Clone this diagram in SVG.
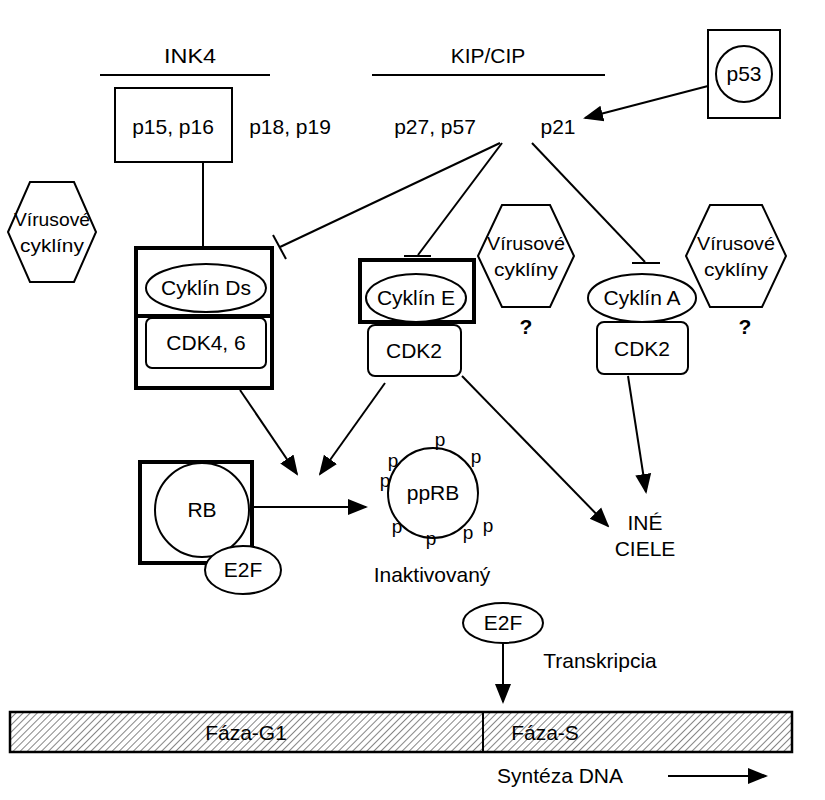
<svg xmlns="http://www.w3.org/2000/svg" width="825" height="800" viewBox="0 0 825 800">
<defs>
<style>
text{font-family:"Liberation Sans",Arial,sans-serif;font-size:21px;fill:#000;text-anchor:middle}
.s{fill:none;stroke:#000;stroke-width:2}
.t{fill:#fff;stroke:#000;stroke-width:4}
.w{fill:#fff;stroke:#000;stroke-width:2}
.p{font-size:19px}
.v{font-size:19px}
</style>
<marker id="A" viewBox="0 0 10 10" refX="9" refY="5" markerWidth="20" markerHeight="20" markerUnits="userSpaceOnUse" orient="auto"><path d="M0,1L10,5L0,9z"/></marker>
<pattern id="h" width="5" height="5" patternUnits="userSpaceOnUse" patternTransform="rotate(45)"><rect width="5" height="5" fill="#fff"/><line x1="0" y1="0" x2="0" y2="5" stroke="#444" stroke-width="1.3"/></pattern>
</defs>
<g id="labels">
<text x="190" y="63" textLength="52" lengthAdjust="spacingAndGlyphs">INK4</text><line class="s" x1="100" y1="75" x2="270" y2="75"/>
<text x="488" y="63">KIP/CIP</text><line class="s" x1="372" y1="75" x2="605" y2="75"/>
<text x="290" y="134">p18, p19</text>
<text x="435" y="134">p27, p57</text>
<text x="558" y="134">p21</text>
</g>
<g id="p53"><rect class="w" x="708" y="30" width="72" height="88" stroke-width="3"/><circle class="w" cx="744" cy="74" r="28"/><text x="744" y="81">p53</text></g>
<g id="p15"><rect class="w" x="115" y="88" width="117" height="74"/><text x="173" y="134">p15, p16</text></g>
<g id="hex1"><polygon class="w" points="8,232 30,182 74,182 96,232 74,282 30,282"/><text class="v" x="52" y="226" textLength="76" lengthAdjust="spacingAndGlyphs">Vírusové</text><text class="v" x="52" y="252" textLength="64" lengthAdjust="spacingAndGlyphs">cyklíny</text></g>
<g id="hex2"><polygon class="w" points="478,256 502,205 550,205 574,256 550,307 502,307"/><text class="v" x="526" y="250" textLength="78" lengthAdjust="spacingAndGlyphs">Vírusové</text><text class="v" x="526" y="276" textLength="64" lengthAdjust="spacingAndGlyphs">cyklíny</text><text x="526" y="334" font-weight="bold">?</text></g>
<g id="hex3"><polygon class="w" points="686,256 710,205 762,205 786,256 762,307 710,307"/><text class="v" x="736" y="250" textLength="78" lengthAdjust="spacingAndGlyphs">Vírusové</text><text class="v" x="736" y="276" textLength="64" lengthAdjust="spacingAndGlyphs">cyklíny</text><text x="745" y="334" font-weight="bold">?</text></g>
<g id="cyclinD"><rect class="t" x="136" y="248" width="136" height="140"/><line x1="136" y1="316" x2="272" y2="316" stroke="#000" stroke-width="4"/><ellipse class="w" cx="206" cy="288" rx="60" ry="24"/><text x="206" y="295">Cyklín Ds</text><rect class="w" x="146" y="318" width="120" height="50" rx="6"/><text x="206" y="350">CDK4, 6</text></g>
<g id="cyclinE"><rect class="t" x="360" y="260" width="114" height="62"/><ellipse class="w" cx="416" cy="298" rx="50" ry="24"/><text x="416" y="305">Cyklín E</text><rect class="w" x="368" y="325" width="93" height="51" rx="7"/><text x="414" y="358">CDK2</text></g>
<g id="cyclinA"><ellipse class="w" cx="642" cy="298" rx="54" ry="24"/><text x="642" y="305">Cyklín A</text><rect class="w" x="597" y="322" width="91" height="52" rx="7"/><text x="642" y="356">CDK2</text></g>
<g id="rb"><rect class="t" x="140" y="462" width="112" height="101" stroke-width="3"/><circle class="w" cx="202" cy="510" r="47"/><text x="202" y="517">RB</text><ellipse class="w" cx="243" cy="570" rx="38" ry="24"/><text x="243" y="577">E2F</text></g>
<g id="pprb"><circle class="w" cx="433" cy="493" r="45" stroke-width="2.5"/><text x="433" y="500">ppRB</text>
<text class="p" x="440" y="446">p</text><text class="p" x="476" y="463">p</text><text class="p" x="393" y="467">p</text><text class="p" x="385" y="487">p</text><text class="p" x="397" y="533">p</text><text class="p" x="431" y="545">p</text><text class="p" x="468" y="539">p</text><text class="p" x="488" y="532">p</text>
<text x="432" y="582">Inaktivovaný</text></g>
<g id="ine"><text x="645" y="530">INÉ</text><text x="645" y="556">CIELE</text></g>
<g id="e2f"><ellipse class="w" cx="503" cy="623" rx="40" ry="20"/><text x="503" y="630">E2F</text><text x="600" y="668">Transkripcia</text></g>
<g id="phase"><rect x="10" y="712" width="782" height="40" fill="url(#h)" stroke="#000" stroke-width="2.5"/><line class="s" x1="483" y1="712" x2="483" y2="752"/>
<text x="246" y="740">Fáza-G1</text><text x="545" y="740">Fáza-S</text>
<text x="560" y="783">Syntéza DNA</text></g>
<g id="connectors" fill="none" stroke="#000" stroke-width="2">
<line x1="708" y1="86" x2="585" y2="118" marker-end="url(#A)"/>
<line x1="203" y1="162" x2="203" y2="248"/>
<line x1="500" y1="143" x2="280" y2="247"/><line x1="273" y1="235" x2="286" y2="259"/>
<line x1="502" y1="143" x2="418" y2="255"/><line x1="404" y1="256" x2="431" y2="256"/>
<line x1="532" y1="143" x2="645" y2="262"/><line x1="632" y1="263" x2="660" y2="263"/>
<line x1="240" y1="390" x2="297" y2="474" marker-end="url(#A)"/>
<line x1="385" y1="383" x2="320" y2="474" marker-end="url(#A)"/>
<line x1="462" y1="376" x2="608" y2="526" marker-end="url(#A)"/>
<line x1="628" y1="376" x2="646" y2="492" marker-end="url(#A)"/>
<line x1="252" y1="507" x2="366" y2="507" marker-end="url(#A)"/>
<line x1="503" y1="643" x2="503" y2="702" marker-end="url(#A)"/>
<line x1="668" y1="776" x2="766" y2="776" marker-end="url(#A)"/>
</g>
</svg>
